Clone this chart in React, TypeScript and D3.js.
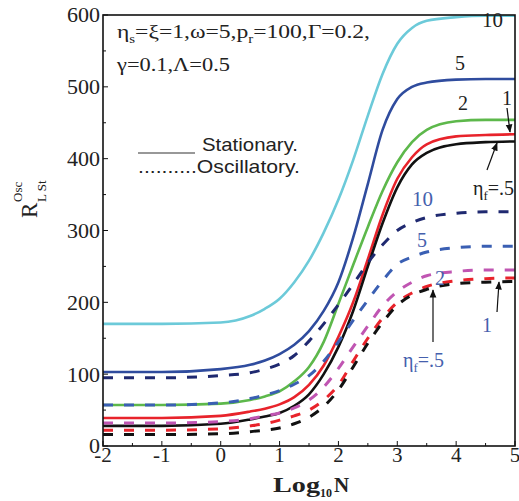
import React from 'react';
import * as d3 from 'd3';

// log10 N sample positions
const LOG_N = [-2, -1, 0, 0.5, 0.75, 1, 1.25, 1.5, 1.75, 2, 2.25, 2.5, 2.75, 3, 3.25, 3.5, 4, 4.5, 5];

// Stationary (solid) series, eta_f = 10, 5, 2, 1, .5
const STAT_10 = [170, 170, 172, 181, 191, 205, 228, 258, 297, 343, 398, 460, 518, 560, 582, 592, 597, 599, 599];
const STAT_5 = [103, 103, 107, 113, 119, 128, 141, 160, 188, 228, 290, 365, 440, 483, 500, 506, 510, 511, 511];
const STAT_2 = [57, 57, 59, 64, 69, 76, 90, 110, 145, 198, 252, 305, 355, 395, 423, 440, 452, 454, 454];
const STAT_1 = [39, 39, 42, 48, 52, 58, 68, 85, 112, 152, 200, 260, 322, 372, 402, 420, 431, 433, 434];
const STAT_05 = [28, 28, 31, 37, 41, 46, 56, 72, 100, 138, 188, 250, 310, 360, 392, 408, 420, 423, 424];

// Oscillatory (dashed) series, eta_f = 10, 5, 2, 1, .5
const OSC_10 = [95, 95, 98, 102, 107, 114, 126, 146, 170, 197, 225, 255, 280, 300, 311, 318, 324, 326, 326];
const OSC_5 = [57, 57, 60, 66, 71, 77, 86, 98, 118, 145, 175, 203, 230, 253, 263, 270, 276, 278, 278];
const OSC_2 = [32, 32, 34, 38, 42, 46, 53, 64, 82, 108, 138, 167, 195, 215, 228, 237, 243, 245, 245];
const OSC_1 = [22, 22, 24, 28, 31, 36, 42, 50, 64, 85, 118, 150, 178, 200, 213, 222, 230, 233, 234];
const OSC_05 = [16, 16, 17, 20, 22, 25, 31, 40, 55, 78, 110, 143, 172, 196, 210, 218, 226, 228, 229];

const X_TICKS = [-2, -1, 0, 1, 2, 3, 4, 5];
const X_MINOR = [-1.5, -0.5, 0.5, 1.5, 2.5, 3.5, 4.5];
const Y_TICKS = [0, 100, 200, 300, 400, 500, 600];
const Y_MINOR = [50, 150, 250, 350, 450, 550];

const SERIF = "'Liberation Serif', 'Times New Roman', serif";
const SANS = "'Liberation Sans', Arial, sans-serif";
const BLUE_TXT = '#4560ad';

export default function App() {
  const x = d3.scaleLinear().domain([-2, 5]).range([103, 515]);
  const y = d3.scaleLinear().domain([0, 600]).range([446, 15]);
  const line = d3
    .line<number>()
    .x((_, i) => x(LOG_N[i]))
    .y((d) => y(d))
    .curve(d3.curveMonotoneX);

  const solids: [number[], string][] = [
    [STAT_10, '#6ccad9'],
    [STAT_5, '#2f4c9e'],
    [STAT_2, '#5db84b'],
    [STAT_1, '#e8232b'],
    [STAT_05, '#111111'],
  ];
  const dashes: [number[], string][] = [
    [OSC_10, '#1f2970'],
    [OSC_5, '#3a5fb3'],
    [OSC_2, '#c055b2'],
    [OSC_1, '#e8232b'],
    [OSC_05, '#111111'],
  ];

  const [x0, x1] = x.range();
  const [yb, yt] = y.range();

  return (
    <svg
      width={519}
      height={501}
      style={{ position: 'absolute', left: 0, top: 0, background: '#fff' }}
    >
      <defs>
        <marker id="ah" viewBox="0 0 10 10" refX="9" refY="5" markerWidth="7" markerHeight="7" orient="auto">
          <path d="M0,1 L10,5 L0,9 z" fill="#111" />
        </marker>
        <clipPath id="plot">
          <rect x={x0} y={yt} width={x1 - x0} height={yb - yt} />
        </clipPath>
      </defs>
      <rect width={519} height={501} fill="#fff" />

      {/* curves */}
      <g clipPath="url(#plot)" fill="none">
        {solids.map(([d, c], i) => (
          <path key={'s' + i} d={line(d) || ''} stroke={c} strokeWidth={2.6} />
        ))}
        {dashes.map(([d, c], i) => (
          <path key={'d' + i} d={line(d) || ''} stroke={c} strokeWidth={3} strokeDasharray="10,11" />
        ))}
      </g>

      {/* frame */}
      <rect x={x0} y={yt} width={x1 - x0} height={yb - yt} fill="none" stroke="#111" strokeWidth={1.6} />

      {/* ticks */}
      {X_TICKS.map((t) => (
        <line key={'xt' + t} x1={x(t)} x2={x(t)} y1={yb} y2={yb - 5} stroke="#111" strokeWidth={1} />
      ))}
      {X_MINOR.map((t) => (
        <line key={'xm' + t} x1={x(t)} x2={x(t)} y1={yb} y2={yb - 3} stroke="#111" strokeWidth={1} />
      ))}
      {Y_TICKS.map((t) => (
        <line key={'yt' + t} x1={x0} x2={x0 + 5} y1={y(t)} y2={y(t)} stroke="#111" strokeWidth={1} />
      ))}
      {Y_MINOR.map((t) => (
        <line key={'ym' + t} x1={x0} x2={x0 + 3} y1={y(t)} y2={y(t)} stroke="#111" strokeWidth={1} />
      ))}

      {/* tick labels */}
      {X_TICKS.map((t) => (
        <text key={'xl' + t} x={x(t)} y={462} textAnchor="middle" fontFamily={SERIF} fontSize={21} fill="#222">
          {String(t)}
        </text>
      ))}
      {Y_TICKS.map((t) => (
        <text
          key={'yl' + t}
          x={100}
          y={y(t)}
          dy="0.35em"
          textAnchor="end"
          fontFamily={SERIF}
          fontSize={21}
          fill="#222"
          textLength={String(t).length * 11}
          lengthAdjust="spacingAndGlyphs"
        >
          {String(t)}
        </text>
      ))}

      {/* axis titles */}
      <g fontFamily={SERIF} fontWeight="bold" fill="#222">
        <text x={273} y={492} fontSize={22} textLength={47} lengthAdjust="spacingAndGlyphs">Log</text>
        <text x={320} y={497} fontSize={12}>10</text>
        <text x={334} y={492} fontSize={21}>N</text>
      </g>
      <g transform="translate(37,218) rotate(-90)" fontFamily={SERIF} fill="#222">
        <text x={0} y={0} fontSize={23}>R</text>
        <text x={16} y={-15} fontSize={13}>Osc</text>
        <text x={16} y={9} fontSize={13}>L St</text>
      </g>

      {/* parameter text */}
      <g fontFamily={SERIF} fill="#222">
        <text x={117} y={38} fontSize={19} textLength={253} lengthAdjust="spacingAndGlyphs">
          η<tspan fontSize={12} dy={5}>s</tspan>
          <tspan dy={-5}>=ξ=1,ω=5,p</tspan>
          <tspan fontSize={12} dy={5}>r</tspan>
          <tspan dy={-5}>=100,Γ=0.2,</tspan>
        </text>
        <text x={117} y={71} fontSize={19} textLength={113} lengthAdjust="spacingAndGlyphs">
          γ=0.1,Λ=0.5
        </text>
      </g>

      {/* legend */}
      <line x1={138} x2={195} y1={153} y2={153} stroke="#333" strokeWidth={1.1} />
      <text x={202} y={151} fontFamily={SANS} fontSize={19} fill="#222" textLength={96} lengthAdjust="spacingAndGlyphs">
        Stationary.
      </text>
      <text x={138} y={173} fontFamily={SANS} fontSize={19} fill="#222" textLength={162} lengthAdjust="spacingAndGlyphs">
        ..........Oscillatory.
      </text>

      {/* stationary labels */}
      <g fontFamily={SERIF} fontSize={20} fill="#222">
        <text x={482} y={27} textLength={21} lengthAdjust="spacingAndGlyphs">10</text>
        <text x={455} y={70}>5</text>
        <text x={458} y={110}>2</text>
        <text x={502} y={105}>1</text>
        <text x={473} y={195}>
          η<tspan fontSize={13} dy={5}>f</tspan>
          <tspan dy={-5}>=.5</tspan>
        </text>
      </g>
      <line x1={507} y1={108} x2={510} y2={132} stroke="#111" strokeWidth={1.2} markerEnd="url(#ah)" />
      <line x1={487} y1={170} x2={497} y2={143} stroke="#111" strokeWidth={1.2} markerEnd="url(#ah)" />

      {/* oscillatory labels */}
      <g fontFamily={SERIF} fontSize={20} fill={BLUE_TXT}>
        <text x={412} y={206} textLength={21} lengthAdjust="spacingAndGlyphs">10</text>
        <text x={417} y={247}>5</text>
        <text x={435} y={285}>2</text>
        <text x={482} y={332}>1</text>
        <text x={403} y={367}>
          η<tspan fontSize={13} dy={5}>f</tspan>
          <tspan dy={-5}>=.5</tspan>
        </text>
      </g>
      <line x1={433} y1={342} x2={433} y2={290} stroke="#111" strokeWidth={1.2} markerEnd="url(#ah)" />
      <line x1={497} y1={312} x2={499} y2={282} stroke="#111" strokeWidth={1.2} markerEnd="url(#ah)" />
    </svg>
  );
}
